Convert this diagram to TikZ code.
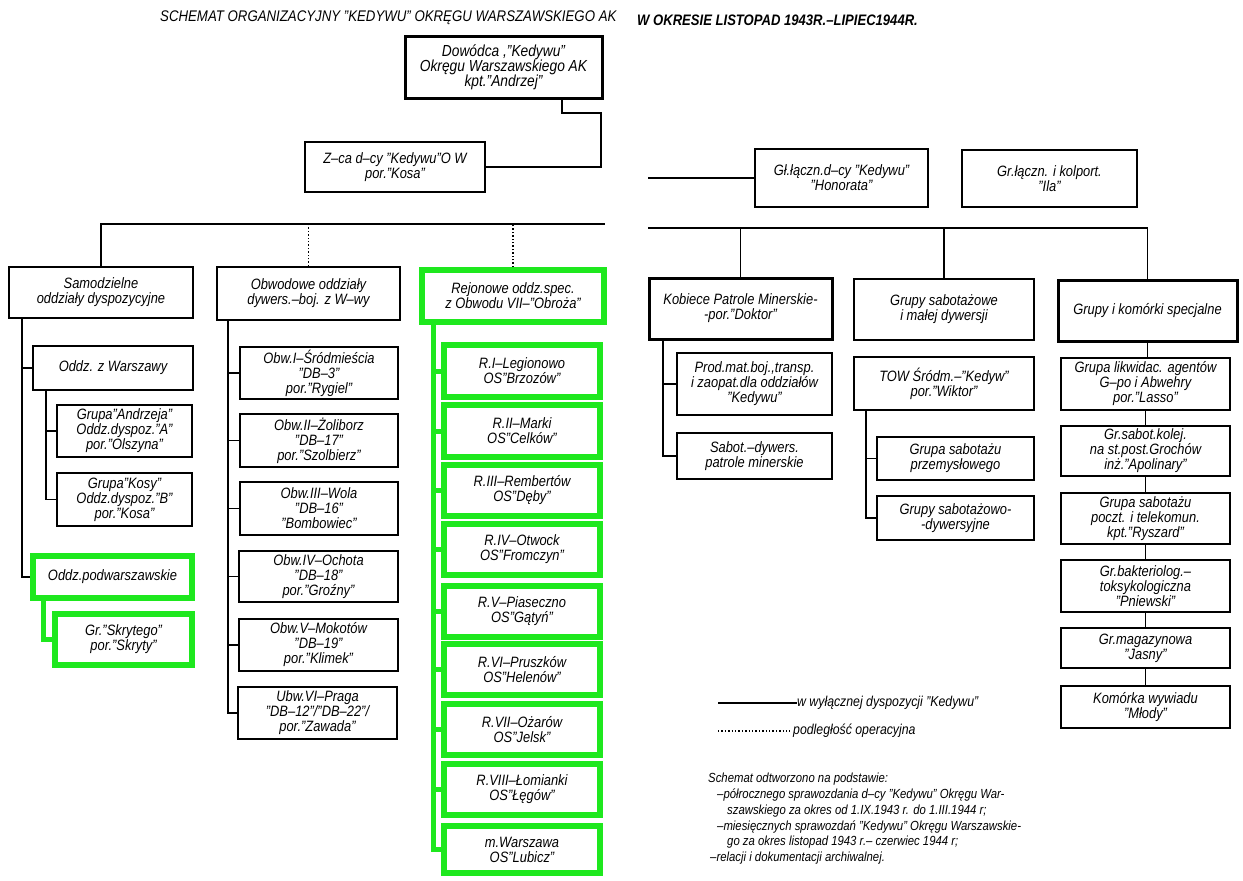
\documentclass[tikz,border=0pt]{standalone}
\usepackage{fontspec}
\setmainfont{Liberation Sans}[FakeStretch=0.86]
\definecolor{grn}{RGB}{30,232,30}
\tikzset{
 bx/.style={draw, line width=1.7pt, align=center, inner sep=0pt, font=\itshape\fontsize{15}{15}\selectfont},
 thk/.style={bx, line width=3pt},
 gbx/.style={bx, draw=grn, line width=5.5pt},
 ln/.style={line width=1.4pt},
 gln/.style={draw=grn, line width=5pt},
 dln/.style={line width=1.4pt, dotted},
 ttl/.style={anchor=west, inner sep=0pt, font=\itshape\fontsize{15.4}{17}\selectfont},
 leg/.style={anchor=west, inner sep=0pt, font=\itshape\fontsize{14.3}{16}\selectfont},
}
\newcommand\BX[7][bx]{\node[#1, minimum width={(#5-#3)*1pt}, minimum height={(#6-#4)*1pt}] (#2) at ({(#3+#5)/2},{(#4+#6)/2}) {#7};}
\begin{document}
\begin{tikzpicture}[x=1pt,y=-1pt]
\fill[white] (0,0) rectangle (1243,881);
\useasboundingbox (0,0) rectangle (1243,881);
% title
\node[ttl] (t1) at (160,18) {SCHEMAT ORGANIZACYJNY "KEDYWU" OKRĘGU WARSZAWSKIEGO AK};
\node[ttl, font=\itshape\bfseries\fontsize{15.2}{17}\selectfont] (t2) at (637,20) {W OKRESIE LISTOPAD 1943R.–LIPIEC1944R.};
% top level
\BX[thk]{top}{405}{36}{602}{98}{\fontsize{16}{16}\selectfont Dowódca ,"Kedywu"\\\fontsize{16}{16}\selectfont Okręgu Warszawskiego AK\\\fontsize{16}{16}\selectfont kpt."Andrzej"}
\BX{zca}{305}{142}{485}{192}{Z–ca d–cy "Kedywu"O W\\por."Kosa"}
\BX{glacz}{755}{149}{928}{207}{Gł.łączn.d–cy "Kedywu"\\"Honorata"}
\BX{grlacz}{962}{150}{1137}{207}{Gr.łączn. i kolport.\\"Ila"}
% left columns
\BX{samo}{9}{267}{193}{318}{Samodzielne\\oddziały dyspozycyjne}
\BX{obwod}{217}{267}{400}{320}{Obwodowe oddziały\\dywers.–boj. z W–wy}
\BX[gbx]{rej}{422}{270}{604}{322}{Rejonowe oddz.spec.\\z Obwodu VII–"Obroża"}
\BX{oddzw}{33}{346}{193}{390}{Oddz. z Warszawy}
\BX{grand}{57}{405}{192}{457}{Grupa"Andrzeja"\\Oddz.dyspoz."A"\\por."Olszyna"}
\BX{grkosy}{57}{473}{192}{526}{Grupa"Kosy"\\Oddz.dyspoz."B"\\por."Kosa"}
\BX[gbx]{podw}{33}{556}{192}{598}{Oddz.podwarszawskie}
\BX[gbx]{skryt}{55}{614}{192}{665}{Gr."Skrytego"\\por."Skryty"}
\BX{obw1}{240}{347}{398}{399}{Obw.I–Śródmieścia\\"DB–3"\\por."Rygiel"}
\BX{obw2}{240}{414}{398}{467}{Obw.II–Żoliborz\\"DB–17"\\por."Szolbierz"}
\BX{obw3}{240}{482}{398}{535}{Obw.III–Wola\\"DB–16"\\"Bombowiec"}
\BX{obw4}{239}{551}{398}{602}{Obw.IV–Ochota\\"DB–18"\\por."Groźny"}
\BX{obw5}{239}{619}{398}{671}{Obw.V–Mokotów\\"DB–19"\\por."Klimek"}
\BX{obw6}{238}{687}{397}{739}{Ubw.VI–Praga\\"DB–12"/"DB–22"/\\por."Zawada"}
\BX[gbx]{r1}{444}{345}{600}{397}{R.I–Legionowo\\OS"Brzozów"}
\BX[gbx]{r2}{444}{405}{600}{457}{R.II–Marki\\OS"Celków"}
\BX[gbx]{r3}{444}{465}{600}{516}{R.III–Rembertów\\OS"Dęby"}
\BX[gbx]{r4}{444}{524}{600}{575}{R.IV–Otwock\\OS"Fromczyn"}
\BX[gbx]{r5}{444}{586}{600}{637}{R.V–Piaseczno\\OS"Gątyń"}
\BX[gbx]{r6}{444}{644}{600}{695}{R.VI–Pruszków\\OS"Helenów"}
\BX[gbx]{r7}{444}{704}{600}{755}{R.VII–Ożarów\\OS"Jelsk"}
\BX[gbx]{r8}{444}{764}{600}{815}{R.VIII–Łomianki\\OS"Łęgów"}
\BX[gbx]{r9}{444}{826}{600}{873}{m.Warszawa\\OS"Lubicz"}
% right columns
\BX[thk]{kob}{649}{278}{832}{339}{Kobiece Patrole Minerskie-\\-por."Doktor"}
\BX{gsab}{854}{279}{1034}{340}{Grupy sabotażowe\\i małej dywersji}
\BX[thk]{gkom}{1058}{280}{1237}{341}{Grupy i komórki specjalne}
\BX{prod}{677}{353}{832}{415}{Prod.mat.boj.,transp.\\i zaopat.dla oddziałów\\"Kedywu"}
\BX{sabot}{677}{433}{832}{479}{Sabot.–dywers.\\patrole minerskie}
\BX{tow}{854}{357}{1034}{410}{TOW Śródm.–"Kedyw"\\por."Wiktor"}
\BX{gsp}{877}{437}{1034}{480}{Grupa sabotażu\\przemysłowego}
\BX{gsd}{877}{496}{1034}{540}{Grupy sabotażowo-\\-dywersyjne}
\BX{likw}{1061}{358}{1230}{410}{Grupa likwidac. agentów\\G–po i Abwehry\\por."Lasso"}
\BX{kolej}{1061}{426}{1230}{476}{Gr.sabot.kolej.\\na st.post.Grochów\\inż."Apolinary"}
\BX{poczt}{1061}{493}{1230}{544}{Grupa sabotażu\\poczt. i telekomun.\\kpt."Ryszard"}
\BX{bakt}{1061}{560}{1230}{612}{Gr.bakteriolog.–\\toksykologiczna\\"Pniewski"}
\BX{mag}{1061}{628}{1230}{668}{Gr.magazynowa\\"Jasny"}
\BX{wyw}{1061}{686}{1230}{728}{Komórka wywiadu\\"Młody"}
% coordinates
\coordinate (j1) at (562,113);
\coordinate (j2) at (601,113);
\coordinate (lbR) at (605,224);
\coordinate (rbL) at (648,228);
\coordinate (glL) at (648,178);
\coordinate (ssp) at (22,0);
\coordinate (osp) at (46,0);
\coordinate (psp) at (43,0);
\coordinate (obsp) at (228,0);
\coordinate (rsp) at (433,0);
\coordinate (ksp) at (663,0);
\coordinate (tsp) at (866,0);
% connectors top
\draw[ln] (top.south -| j1) -- (j1) -- (j2) |- (zca.east);
\draw[ln] (samo.north) |- (lbR);
\draw[dln] (obwod.north) -- (obwod.north |- lbR);
\draw[dln] (rej.north) -- (rej.north |- lbR);
\draw[ln] (glL) -- (glacz.west);
\draw[ln] (rbL) -| (gkom.north);
\draw[ln] (kob.north) -- (kob.north |- rbL);
\draw[ln] (gsab.north) -- (gsab.north |- rbL);
% left spines
\draw[ln] (samo.south -| ssp) |- (oddzw.west);
\draw[ln] (samo.south -| ssp) |- (podw.west);
\draw[ln] (oddzw.south -| osp) |- (grand.west);
\draw[ln] (oddzw.south -| osp) |- (grkosy.west);
\draw[gln] (podw.south -| psp) |- (skryt.west);
\foreach \n in {obw1,obw2,obw3,obw4,obw5,obw6}{\draw[ln] (obwod.south -| obsp) |- (\n.west);}
\foreach \n in {r1,r2,r3,r4,r5,r6,r7,r8,r9}{\draw[gln] (rej.south -| rsp) |- (\n.west);}
% right spines
\draw[ln] (kob.south -| ksp) |- (prod.west);
\draw[ln] (kob.south -| ksp) |- (sabot.west);
\draw[ln] (tow.south -| tsp) |- (gsp.west);
\draw[ln] (tow.south -| tsp) |- (gsd.west);
\draw[ln] (gkom.south) -- (gkom.south |- likw.north);
\draw[ln] (likw.south) -- (likw.south |- kolej.north);
\draw[ln] (kolej.south) -- (kolej.south |- poczt.north);
\draw[ln] (poczt.south) -- (poczt.south |- bakt.north);
\draw[ln] (bakt.south) -- (bakt.south |- mag.north);
\draw[ln] (mag.south) -- (mag.south |- wyw.north);
% legend
\node[leg] (lg1) at (797,703) {w wyłącznej dyspozycji "Kedywu"};
\node[leg] (lg2) at (793,731) {podległość operacyjna};
\coordinate (la) at (718,703);
\coordinate (lb) at (718,731);
\draw[line width=2.2pt] (la) -- (lg1.west);
\draw[dln] (lb) -- ([xshift=-3pt]lg2.west);
% footnote
\node[anchor=north west, inner sep=0pt, align=left, font=\itshape\fontsize{13.2}{15.8}\selectfont] (fn) at (708,773) {Schemat odtworzono na podstawie:\\
\hspace*{9pt}–półrocznego sprawozdania d–cy "Kedywu" Okręgu War-\\
\hspace*{19pt}szawskiego za okres od 1.IX.1943 r. do 1.III.1944 r;\\
\hspace*{9pt}–miesięcznych sprawozdań "Kedywu" Okręgu Warszawskie-\\
\hspace*{19pt}go za okres listopad 1943 r.– czerwiec 1944 r;\\
\hspace*{2pt}–relacji i dokumentacji archiwalnej.};
\end{tikzpicture}
\end{document}
